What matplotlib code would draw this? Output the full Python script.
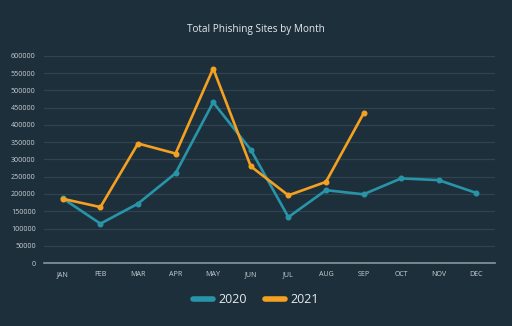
import matplotlib
matplotlib.use("Agg")
import matplotlib.pyplot as plt

months = ["JAN", "FEB", "MAR", "APR", "MAY", "JUN", "JUL", "AUG", "SEP", "OCT", "NOV", "DEC"]
sites_2020 = [187000, 114000, 172000, 260000, 465000, 328000, 133000, 211000, 199000, 245000, 240000, 203000]
sites_2021 = [186000, 162000, 346000, 317000, 563000, 280000, 196000, 235000, 433000]
yticks = list(range(0, 600001, 50000))

bg = "#1e2f3c"
teal = "#2894a8"
orange = "#f4a020"

plt.rcParams["font.family"] = ["Open Sans", "DejaVu Sans"]

fig = plt.figure(figsize=(5.12, 3.26), dpi=100, facecolor=bg)
ax = fig.add_axes([0.086, 0.193, 0.881, 0.636], facecolor=bg)

x20 = range(len(sites_2020))
x21 = range(len(sites_2021))
ax.plot(x20, sites_2020, color=teal, lw=1.9, marker="o", ms=3.3, label="2020", zorder=3, clip_on=False)
ax.plot(x21, sites_2021, color=orange, lw=1.9, marker="o", ms=3.3, label="2021", zorder=4, clip_on=False)

ax.set_xlim(-0.5, 11.5)
ax.set_ylim(0, 600000)
ax.set_yticks(yticks)
ax.set_yticklabels([str(v) for v in yticks], color="#c8cfd4", fontsize=5.1)
ax.set_xticks(range(len(months)))
ax.set_xticklabels(months, color="#c8cfd4", fontsize=5.1)
ax.tick_params(length=0, pad=6)

ax.grid(axis="y", color="#2f4350", lw=0.9)
ax.set_axisbelow(True)
for s in ["top", "right", "left"]:
    ax.spines[s].set_visible(False)
ax.spines["bottom"].set_color("#8a969e")
ax.spines["bottom"].set_linewidth(1.2)

fig.text(0.5, 0.91, "Total Phishing Sites by Month", ha="center", va="center", color="#e6eaed", fontsize=7.2)

leg = fig.legend(loc="center", bbox_to_anchor=(0.5, 0.08), ncol=2, frameon=False,
                 fontsize=9, labelcolor="#e6eaed", handlelength=1.6, columnspacing=1.45,
                 handletextpad=0.4)
for h in leg.legend_handles:
    h.set_linewidth(4)
    h.set_marker("")
    h.set_solid_capstyle("round")

fig.savefig("out.png", dpi=100, facecolor=bg)
